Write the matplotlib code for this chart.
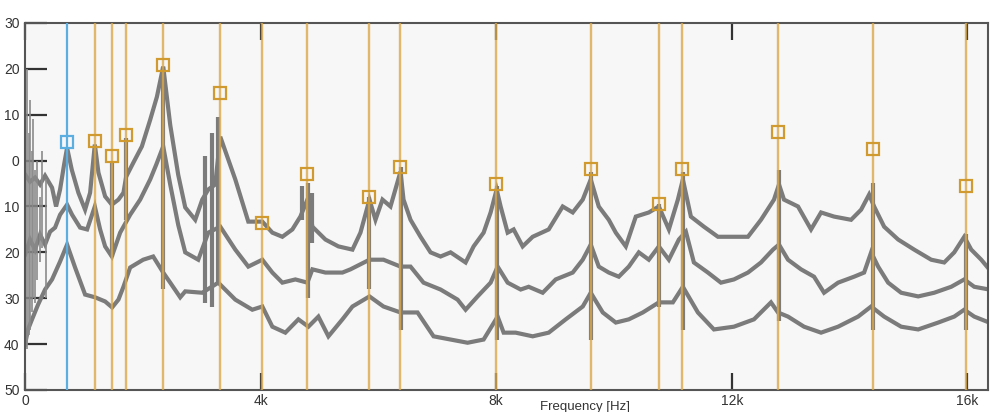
import matplotlib
matplotlib.use('Agg')
import matplotlib.pyplot as plt

plt.rcParams['font.family'] = ['Liberation Sans', 'DejaVu Sans']

# spectrum traces (Hz, dB)
top_freq = [0, 85, 170, 255, 340, 459, 527, 595, 663, 714, 794, 906, 1020, 1105, 1185, 1246,
            1360, 1474, 1586, 1671, 1717, 1841, 1984, 2125, 2239, 2346, 2465, 2601, 2720, 2890,
            3009, 3111, 3230, 3315, 3570, 3791, 4029, 4199, 4369, 4539, 4675, 4794, 4879, 5100,
            5321, 5559, 5695, 5848, 5950, 6069, 6205, 6375, 6426, 6545, 6715, 6885, 7055, 7225,
            7480, 7616, 7786, 7905, 8007, 8075, 8194, 8296, 8449, 8619, 8891, 9129, 9299, 9469,
            9605, 9741, 9911, 10030, 10200, 10370, 10591, 10761, 10931, 11084, 11169, 11305,
            11526, 11764, 12036, 12274, 12495, 12716, 12801, 12886, 13124, 13345, 13515, 13736,
            14025, 14195, 14331, 14416, 14586, 14824, 15096, 15385, 15606, 15776, 15946, 16065,
            16235, 16371]
top_db = [-3.0, -4.6, -3.7, -5.2, -3.3, -5.9, -10.0, -6.3, -0.9, 2.8, -2.0, -7.0, -10.7, -7.0,
          3.5, -2.6, -7.8, -9.6, -8.5, -7.0, -3.5, -0.4, 3.1, 8.9, 13.9, 20.5, 7.8, -3.1, -10.2,
          -12.9, -8.5, -6.3, -5.2, 5.2, -4.1, -13.3, -13.3, -15.7, -16.6, -15.0, -12.2, -8.5,
          -14.4, -17.2, -18.7, -19.4, -15.7, -8.5, -12.9, -8.5, -10.0, -2.4, -8.5, -12.9, -16.6,
          -20.0, -20.9, -20.0, -22.2, -18.7, -15.7, -11.3, -6.3, -10.0, -15.7, -15.0, -18.7,
          -16.6, -15.0, -10.0, -11.3, -8.5, -4.1, -10.0, -12.9, -15.7, -18.7, -12.2, -11.3,
          -10.0, -15.0, -8.5, -4.1, -12.2, -14.4, -16.6, -16.6, -16.6, -12.9, -8.5, -5.2, -8.5,
          -10.0, -15.0, -11.3, -12.2, -12.9, -10.7, -7.4, -10.0, -14.4, -17.2, -19.4, -21.6,
          -22.2, -20.0, -16.6, -19.4, -21.6, -23.7]

mid_freq = [0, 85, 170, 255, 340, 425, 510, 595, 714, 799, 935, 1054, 1185, 1275, 1360, 1474,
            1615, 1785, 1955, 2125, 2227, 2346, 2465, 2601, 2720, 2941, 3111, 3315, 3570, 3791,
            4029, 4199, 4369, 4590, 4794, 4879, 5100, 5389, 5525, 5848, 6086, 6375, 6545, 6766,
            7055, 7344, 7480, 7684, 7905, 8024, 8194, 8415, 8551, 8789, 9010, 9299, 9469, 9605,
            9741, 9911, 10081, 10251, 10421, 10591, 10761, 10931, 11101, 11220, 11356, 11594,
            11815, 12036, 12274, 12495, 12699, 12801, 12954, 13175, 13396, 13566, 13804, 14076,
            14246, 14365, 14484, 14654, 14875, 15164, 15436, 15725, 15946, 16116, 16371]
mid_db = [-20.5, -17.2, -19.4, -16.1, -18.3, -15.5, -14.6, -11.8, -9.6, -11.8, -14.6, -15.0,
          -10.0, -15.0, -18.7, -20.9, -15.7, -11.8, -8.5, -4.1, -0.9, 3.1, -5.2, -14.0, -20.0,
          -21.6, -15.7, -14.4, -19.4, -23.1, -21.6, -24.4, -26.6, -25.9, -26.6, -23.7, -24.4,
          -24.4, -23.7, -21.6, -21.6, -23.1, -23.1, -26.6, -28.1, -30.3, -32.5, -29.6, -26.6,
          -23.1, -26.6, -28.1, -27.5, -28.8, -25.9, -24.4, -21.6, -18.3, -23.1, -24.4, -25.3,
          -23.1, -20.0, -21.6, -18.7, -21.6, -17.2, -15.5, -22.2, -24.4, -26.6, -25.9, -24.4,
          -22.2, -19.4, -18.3, -21.6, -23.7, -25.3, -28.8, -26.6, -25.3, -24.4, -20.0, -23.1,
          -26.6, -28.8, -29.6, -28.8, -27.5, -25.9, -27.5, -28.1]

low_freq = [0, 51, 119, 221, 340, 459, 595, 714, 850, 1020, 1190, 1360, 1479, 1586, 1671, 1785,
            2006, 2176, 2346, 2465, 2635, 2720, 3009, 3281, 3570, 3859, 4029, 4199, 4420, 4641,
            4811, 4981, 5151, 5389, 5559, 5848, 6086, 6375, 6664, 6936, 7225, 7514, 7786, 8024,
            8126, 8330, 8619, 8891, 9180, 9469, 9605, 9809, 10030, 10251, 10489, 10761, 10999,
            11169, 11424, 11696, 12036, 12376, 12665, 12784, 12954, 13226, 13515, 13804, 14144,
            14365, 14586, 14875, 15164, 15504, 15776, 15946, 16116, 16371]
low_db = [-40.1, -36.8, -34.6, -31.4, -28.1, -25.9, -22.0, -18.3, -23.3, -29.2, -29.8, -30.7,
          -32.0, -30.3, -27.5, -23.3, -21.6, -20.9, -24.4, -26.6, -29.8, -28.5, -28.8, -26.6,
          -30.3, -32.5, -31.8, -36.2, -37.5, -34.6, -36.2, -34.0, -38.3, -34.6, -31.8, -29.6,
          -31.8, -33.1, -33.1, -38.3, -39.0, -39.7, -39.0, -34.0, -37.5, -37.5, -38.3, -37.5,
          -34.6, -31.8, -28.8, -33.1, -35.3, -34.6, -33.1, -30.9, -30.9, -27.5, -33.1, -36.8,
          -36.2, -34.6, -30.9, -33.1, -34.0, -36.2, -37.5, -36.2, -34.0, -31.8, -34.0, -36.2,
          -36.8, -35.3, -34.0, -32.5, -34.0, -35.3]

# thin noise bursts at low frequency (Hz, lowest dB, highest dB)
lf_spike_freq = [34, 60, 85, 110, 136, 170, 204, 250, 289, 357]
lf_spike_low = [-41, -38, -37, -33, -30, -31, -26, -22, -19, -30]
lf_spike_high = [20, 6, 13.3, 2, 9, -2, 0, -8, 2, -4]

# heavier bursts at the resonances (Hz, lowest dB, highest dB)
spike_freq = [1470, 1717, 2346, 3060, 3179, 3281, 4700, 4811, 4880, 5848, 6375, 8007, 9605,
              10761, 11169, 12801, 14392, 15983]
spike_low = [-21, -13, -28, -31, -32, -27, -13, -30, -18, -28, -37, -39, -39, -32, -37, -35,
             -37, -37]
spike_high = [0, 5, 20.5, 1, 6, 9.6, -5.5, -4.8, -7, -8, -1.5, -5.5, -2.5, -9.5, -2.5, -2.0,
              -4.8, -16]

# picked peaks: first one is the blue cursor
peak_freq = [714, 1184, 1472, 1715, 2349, 3312, 4020, 4784, 5843, 6369, 7995, 9602, 10757,
             11154, 12784, 14392, 15983]
peak_db = [4.0, 4.3, 1.0, 5.6, 20.9, 14.7, -13.5, -3.0, -7.9, -1.5, -5.2, -1.8, -9.5, -1.8,
           6.3, 2.5, -5.5]

x_ticks = [0, 4000, 8000, 12000, 16000]
x_labels = ['0', '4k', '8k', '12k', '16k']
y_ticks = [-50, -40, -30, -20, -10, 0, 10, 20, 30]
y_labels = ['50', '40', '30', '20', '10', '0', '10', '20', '30']

gray = '#7b7b7b'
orange = '#dba848'
blue = '#5aaee0'

fig = plt.figure(figsize=(9.93, 4.12), dpi=100)
ax = fig.add_axes([0.0252, 0.0534, 0.9698, 0.8908])
ax.set_facecolor('#f7f7f7')

for f, d in [(top_freq, top_db), (mid_freq, mid_db), (low_freq, low_db)]:
    ax.plot(f, d, color=gray, lw=3.0, solid_joinstyle='miter', zorder=2)
ax.vlines(lf_spike_freq, lf_spike_low, lf_spike_high, color='#8a8a8a', lw=1.2, zorder=2)
ax.vlines(spike_freq, spike_low, spike_high, color=gray, lw=3.0, zorder=2)

ax.axvline(peak_freq[0], color=blue, lw=1.6, zorder=3)
for f in peak_freq[1:]:
    ax.axvline(f, color=orange, lw=1.7, alpha=0.8, zorder=3)

ax.plot(peak_freq[:1], peak_db[:1], ls='none', marker='s', ms=9, mfc='none',
        mec=blue, mew=1.6, zorder=4)
ax.plot(peak_freq[1:], peak_db[1:], ls='none', marker='s', ms=9, mfc='none',
        mec='#d09a30', mew=1.6, zorder=4)

ax.set_xlim(0, 16350)
ax.set_ylim(-50, 30)
ax.set_xticks(x_ticks)
ax.set_xticklabels(x_labels)
ax.set_yticks(y_ticks)
ax.set_yticklabels(y_labels)
ax.tick_params(axis='x', direction='in', top=True, length=12, width=1.6,
               color='#333333', labelsize=10, labelcolor='#333333', pad=3)
ax.tick_params(axis='y', direction='in', length=16, width=1.6,
               color='#333333', labelsize=10, labelcolor='#333333', pad=4)
for s in ax.spines.values():
    s.set_color('#555555')
    s.set_linewidth(1.5)

fig.text(585 / 993, 2 / 412, 'Frequency [Hz]', ha='center', va='baseline',
         fontsize=9.5, color='#333333')

fig.savefig('out.png', dpi=100)
